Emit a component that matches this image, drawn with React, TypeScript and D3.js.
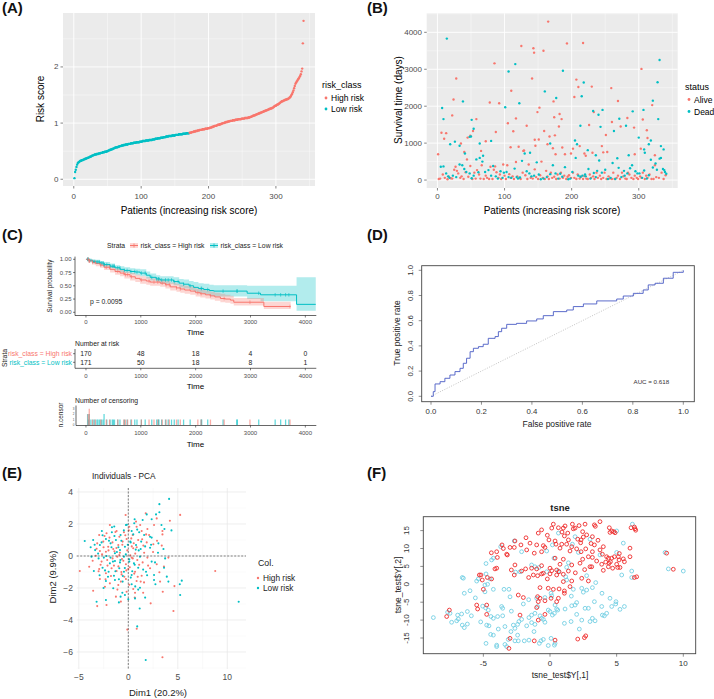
import React from 'react';
import * as d3 from 'd3';

const FONT = 'Liberation Sans, Arial, Helvetica, sans-serif';
const RED = '#F8766D';
const TEAL = '#00BFC4';
const G30 = '#4D4D4D';

// ---------- (A) risk scores, sorted ----------
const riskLow = [
0.02,0.13,0.17,0.22,0.26,0.29,0.30,0.31,0.32,0.33,
0.33,0.34,0.34,0.35,0.35,0.36,0.36,0.37,0.37,0.38,
0.38,0.39,0.39,0.40,0.40,0.41,0.42,0.42,0.43,0.43,
0.44,0.44,0.44,0.45,0.45,0.45,0.46,0.46,0.46,0.47,
0.47,0.47,0.48,0.48,0.48,0.49,0.49,0.49,0.50,0.50,
0.51,0.51,0.52,0.52,0.53,0.53,0.54,0.54,0.55,0.55,
0.56,0.56,0.57,0.57,0.57,0.58,0.58,0.59,0.59,0.59,
0.60,0.60,0.60,0.61,0.61,0.61,0.62,0.62,0.62,0.62,
0.63,0.63,0.63,0.63,0.64,0.64,0.64,0.64,0.65,0.65,
0.65,0.65,0.66,0.66,0.66,0.66,0.66,0.67,0.67,0.67,
0.67,0.68,0.68,0.68,0.68,0.68,0.69,0.69,0.69,0.69,
0.69,0.70,0.70,0.70,0.70,0.70,0.71,0.71,0.71,0.71,
0.72,0.72,0.72,0.72,0.73,0.73,0.73,0.73,0.74,0.74,
0.74,0.74,0.75,0.75,0.75,0.75,0.76,0.76,0.76,0.76,
0.77,0.77,0.77,0.77,0.77,0.78,0.78,0.78,0.78,0.78,
0.79,0.79,0.79,0.79,0.79,0.80,0.80,0.80,0.80,0.80,
0.80,0.81,0.81,0.81,0.81,0.81,0.82,0.82,0.82,0.82,0.82];
const riskHigh = [
0.83,0.83,0.83,0.84,0.84,0.84,0.85,0.85,0.85,
0.86,0.86,0.86,0.87,0.87,0.87,0.88,0.88,0.88,0.88,
0.89,0.89,0.89,0.89,0.90,0.90,0.90,0.90,0.91,0.91,
0.91,0.92,0.92,0.92,0.93,0.93,0.94,0.94,0.95,0.95,
0.95,0.96,0.96,0.97,0.97,0.97,0.98,0.98,0.99,0.99,
1.00,1.00,1.00,1.01,1.01,1.02,1.02,1.02,1.03,1.03,
1.03,1.04,1.04,1.04,1.04,1.05,1.05,1.05,1.05,1.06,
1.06,1.06,1.06,1.07,1.07,1.07,1.07,1.07,1.08,1.08,
1.08,1.08,1.08,1.09,1.09,1.09,1.09,1.09,1.10,1.10,
1.10,1.11,1.11,1.12,1.12,1.13,1.13,1.14,1.14,1.15,
1.15,1.16,1.16,1.17,1.17,1.18,1.18,1.19,1.19,1.20,
1.20,1.21,1.21,1.22,1.22,1.23,1.23,1.24,1.24,1.25,
1.25,1.26,1.26,1.27,1.27,1.28,1.29,1.30,1.31,1.31,
1.32,1.33,1.33,1.34,1.35,1.36,1.37,1.38,1.39,1.39,
1.40,1.40,1.41,1.41,1.42,1.42,1.43,1.43,1.44,1.45,
1.46,1.48,1.50,1.52,1.55,1.58,1.62,1.66,1.70,1.72,
1.74,1.76,1.78,1.80,1.82,1.84,1.87,1.92,1.97,2.42,2.82];

// ---------- (B) survival time by patient index ----------
const survAlive: [number, number][] = [
[1,700],[6,1280],[10,1120],[13,1270],[22,1750],[24,2180],[28,2750],[35,990],[40,760],[45,1150],[49,1200],[53,1330],[58,1650],
[65,790],[72,1050],[78,2100],[85,3160],[87,1300],[92,2080],[105,1540],[109,890],[110,2420],[113,1320],[117,1670],[121,900],
[125,3630],[128,790],[133,1470],[141,2750],[143,3570],[144,3450],[145,1090],[146,930],[149,1840],[152,1960],[151,1100],[158,3500],
[159,1330],[164,970],[165,4290],[167,1180],[172,860],[173,2130],[174,1700],[175,1210],[176,700],[181,1450],[182,1790],[185,1650],
[186,880],[190,700],[193,3700],[199,720],[202,850],[204,2250],[207,2720],[210,2520],[212,920],[217,3710],[219,720],[221,660],
[226,1490],[230,2530],[231,740],[233,1840],[245,920],[247,750],[251,1220],[253,760],[259,2490],[260,1570],[269,2140],[273,1450],
[283,1680],[293,1420],[294,700],[303,850],[304,3010],[306,1640],[312,1350],[313,1140],[320,2030],[324,670],
[2,30],[4,40],[8,150],[11,60],[15,20],[17,90],[20,50],[22,40],[25,280],[27,360],[29,250],[31,180],[34,60],[36,100],[39,30],
[42,210],[44,560],[46,90],[49,380],[52,30],[55,200],[57,40],[59,270],[62,150],[64,40],[66,400],[69,30],[72,120],[74,60],[77,30],[79,360],
[82,30],[84,280],[86,370],[88,210],[91,60],[93,150],[95,30],[98,420],[100,120],[102,30],[104,400],[107,160],[109,60],[112,100],[114,30],[117,490],[119,100],
[122,60],[124,30],[127,200],[129,800],[131,130],[134,30],[136,420],[139,60],[142,40],[145,290],[147,80],[150,30],[153,130],[155,500],[157,60],[160,30],
[162,250],[164,100],[166,30],[169,200],[171,60],[174,90],[177,30],[179,150],[182,40],[184,200],[187,60],[189,120],[192,30],[194,90],[196,130],[199,60],
[202,200],[204,60],[207,30],[209,150],[212,40],[214,90],[217,30],[219,110],[222,40],[224,30],[227,150],[229,60],[232,100],[234,30],[237,200],[239,60],
[242,120],[244,30],[247,60],[249,200],[252,30],[255,100],[257,40],[260,30],[262,200],[264,30],[267,60],[269,120],[272,30],[275,200],[277,100],[280,40],
[282,30],[284,200],[286,150],[289,60],[292,30],[294,120],[297,60],[299,30],[302,100],[304,60],[306,200],[309,30],[311,120],[313,60],[316,150],[319,30],
[322,30],[324,400],[326,80],[330,60],[334,200],[337,30],[340,130]];
const survDead: [number, number][] = [
[7,1950],[9,1650],[14,3830],[19,970],[26,1040],[33,930],[38,2130],[41,720],[48,1170],[50,1180],[51,1630],[54,1390],[63,990],[68,660],
[80,1060],[101,1970],[106,2940],[116,3140],[122,2080],[138,740],[160,2400],[168,990],[177,2220],[187,2960],[205,1070],[208,970],[213,1470],
[215,2270],[218,2640],[224,810],[232,1870],[236,670],[240,1770],[243,1440],[246,1900],[263,1330],[268,590],[271,1660],[281,1470],[285,670],
[291,1860],[300,1150],[307,1900],[308,830],[309,740],[315,970],[318,1070],[321,2150],[328,2650],[329,1650],[331,3250],[333,920],[337,830],[338,270],
[5,360],[9,370],[13,180],[16,100],[18,60],[23,120],[28,80],[33,420],[37,400],[40,300],[43,220],[48,180],[51,50],[54,120],[58,560],
[61,210],[63,600],[67,500],[71,220],[76,270],[80,120],[83,380],[87,100],[90,40],[94,240],[97,60],[99,200],[103,220],[106,80],[110,60],[115,310],[118,80],[120,40],
[123,70],[126,520],[130,720],[133,240],[137,180],[140,100],[144,120],[148,480],[151,150],[154,20],[158,40],[163,80],[168,160],[172,400],[176,180],[180,40],
[183,170],[186,90],[190,350],[195,20],[198,40],[201,220],[206,600],[210,120],[213,90],[216,120],[220,150],[221,100],[225,300],[228,40],[233,190],[236,80],[238,250],
[241,530],[245,200],[250,280],[254,30],[258,60],[261,460],[265,30],[270,330],[274,80],[278,250],[279,120],[283,180],[287,320],[290,400],[295,240],[298,180],
[301,180],[305,60],[308,260],[312,40],[315,130],[318,550],[321,340],[325,450],[327,280],[331,580],[333,600],[336,300],[339,220],[341,170]];

// ---------- (C) Kaplan-Meier ----------
const highT = [0,60,120,180,256,330,439,530,622,700,805,900,988,1100,1171,1354,1450,1537,1650,1720,1800,1902,2000,2085,2180,2268,2350,2451,2540,2634,2695,3244];
const highS = [1,0.97,0.94,0.92,0.89,0.85,0.81,0.77,0.74,0.71,0.67,0.64,0.61,0.59,0.57,0.55,0.52,0.48,0.46,0.44,0.42,0.40,0.37,0.35,0.33,0.31,0.29,0.26,0.25,0.23,0.19,0.11];
const highLo = [1,0.94,0.90,0.87,0.84,0.80,0.75,0.71,0.68,0.64,0.60,0.57,0.54,0.52,0.50,0.48,0.45,0.41,0.39,0.37,0.35,0.33,0.30,0.28,0.26,0.24,0.22,0.19,0.18,0.16,0.13,0.06];
const highHi = [1,1.0,0.98,0.96,0.94,0.90,0.87,0.83,0.80,0.77,0.74,0.71,0.68,0.66,0.64,0.62,0.59,0.56,0.54,0.52,0.50,0.48,0.45,0.43,0.41,0.39,0.37,0.35,0.33,0.31,0.27,0.20];
const highEnd = 3732;
const lowT = [0,60,120,180,256,330,439,530,622,700,805,900,988,1100,1171,1280,1354,1598,1700,1780,1880,1963,2050,2146,2250,2329,2939,3183,3840];
const lowS = [1,0.98,0.96,0.95,0.93,0.90,0.87,0.84,0.81,0.79,0.77,0.76,0.74,0.70,0.66,0.63,0.61,0.58,0.55,0.53,0.50,0.47,0.45,0.43,0.41,0.40,0.36,0.33,0.15];
const lowLo = [1,0.96,0.93,0.92,0.89,0.86,0.83,0.79,0.76,0.74,0.72,0.70,0.68,0.64,0.60,0.57,0.54,0.51,0.47,0.45,0.42,0.39,0.36,0.34,0.31,0.30,0.25,0.21,0.03];
const lowHi = [1,1.0,0.99,0.99,0.97,0.95,0.92,0.89,0.87,0.85,0.83,0.82,0.81,0.77,0.73,0.70,0.68,0.66,0.63,0.62,0.59,0.57,0.55,0.54,0.52,0.51,0.50,0.50,0.66];
const lowEnd = 4190;
const lowCensor = [30,30,45,60,60,90,130,160,200,220,250,280,310,330,330,380,440,480,500,520,580,620,700,750,820,890,930,1010,1080,1200,1290,1320,1330,1380,1450,1500,1560,1610,1680,1780,1900,2100,2110,2220,2500,2750,2760,3150,3450,3550,3640,3700];
const highCensor = [40,40,60,60,60,120,170,270,370,430,580,690,720,760,830,1010,1150,1240,1310,1390,1460,1520,1650,1720,2040,2100,2270,2520,2990,3720];
const riskTimes = [0,1000,2000,3000,4000];
const riskHighN = [170,48,18,4,0];
const riskLowN = [171,50,18,8,1];
const kmTicks = [0,1000,2000,3000,4000];
const survTicks = [0,0.25,0.5,0.75,1];

// ---------- (D) ROC ----------
const rocFpr = [0,0.009,0.016,0.036,0.055,0.075,0.095,0.115,0.128,0.141,0.155,0.168,0.188,0.207,0.227,0.254,0.267,0.280,0.300,0.339,0.379,0.419,0.445,0.485,0.538,0.564,0.604,0.657,0.736,0.762,0.802,0.841,0.861,0.888,0.921,0.960,1.0];
const rocTpr = [0,0.037,0.098,0.116,0.143,0.169,0.196,0.222,0.262,0.302,0.354,0.381,0.394,0.413,0.460,0.474,0.513,0.540,0.571,0.579,0.598,0.614,0.640,0.672,0.685,0.712,0.733,0.757,0.772,0.796,0.817,0.844,0.884,0.897,0.937,0.984,1.0];
const rocTicks = [0,0.2,0.4,0.6,0.8,1.0];

// ---------- (E) PCA ----------
const pcaHigh: [number, number][] = [
[8.78,-0.94],[3.45,-6.33],[-0.1,-4.6],[0.85,-4.55],[5.24,2.57],[4.2,2.2],[4.66,-1.88],[4.56,-3.44],[2.26,-2.96],[0.65,-2.6],[0.68,-2.3],[-3.14,-3.13],[-3.55,-2.17],[-4.9,-0.94],[-0.75,-2.85],
[-0.27,2.56],[1.76,2.67],[2.87,2.35],[-1.86,1.94],[0.78,2.15],[1.2,1.94],[2.6,1.94],[3.45,1.56],[3.45,1.35],
[-2.94,1.31],[-2.2,1.42],[-1.18,1.56],[-0.44,1.48],[0.1,1.83],[0.44,1.31],[0.84,1.83],[1.35,1.56],[1.93,1.69],[2.1,1.31],
[-3.14,0.79],[-2.53,0.9],[-2.03,0.58],[-1.52,0.44],[-1.01,0.69],[-0.57,0.9],[-0.17,1.06],[0.5,0.48],[1.0,1.0],[1.52,0.65],[1.86,0.85],[2.53,0.73],[3.38,0.65],[-2.87,0.31],[-2.26,0.27],[-0.91,0.06],
[-3.28,0.02],[-2.7,-0.35],[-2.13,-0.25],[-1.59,-0.15],[-1.11,-0.04],[-0.64,-0.19],[-0.24,-0.52],[0.34,-0.1],[0.91,-0.25],[1.45,-0.4],[1.93,-0.1],[2.87,-0.52],[4.05,-0.1],
[-3.95,-0.67],[-2.94,-0.81],[-2.26,-1.08],[-1.69,-0.77],[-1.18,-0.94],[-0.68,-1.15],[0,-0.81],[0.68,-0.98],[1.35,-1.23],[2.2,-0.77],[3.14,-1.02],[3.6,-0.66],
[-2.87,-1.44],[-1.86,-1.71],[-1.01,-1.81],[-0.24,-1.44],[0.84,-1.56],[1.59,-1.65],[3.21,-1.6],[-2.36,-1.92],[0.5,-2.06],
[-2.2,-3.06],[-0.17,-2.23],[-1.25,-2.54],[3.48,-2.23],
[-2.5,0.55],[-1.9,1.15],[-1.4,0.3],[-0.9,1.2],[-0.5,-0.3],[-0.1,0.35],[0.3,1.1],[0.7,0.15],[1.1,-0.55],[1.6,0.2],[-2.8,-0.55],[-2.1,-0.6],[-1.6,0.85],[-1.0,-0.65],[-0.6,0.7],[0.15,-0.7],[0.55,0.8],[0.95,-1.3],[-3.2,0.45],[-2.4,1.25],
[-1.75,-1.25],[-1.2,0.5],[-0.7,-1.0],[-0.3,1.3],[0.2,0.05],[0.6,-1.1],[1.4,1.05],[2.0,-0.6],[2.5,0.25],[-3.6,-0.3],[-2.65,0.1],[-2.0,0.35],[-1.45,-0.6],[-0.85,0.2],[-0.4,-1.3],[0.05,1.6],[0.45,-0.15],[0.85,0.55],[1.25,-1.6],[1.8,1.35],
[-1.3,1.5],[-0.2,-0.9],[0.35,0.6],[-2.3,-1.45],[-3.0,-0.95],[2.9,0.95],[1.5,-2.3],[-1.1,-2.1],[0.1,-1.8],[-0.75,-1.6]];
const pcaLow: [number, number][] = [
[11.15,-2.86],[1.76,-6.5],[0.9,-4.4],[4.12,3.57],[3.14,3.24],[4.36,1.6],[5.4,-1.54],[5.2,-1.77],[5.24,-2.44],[1.15,-3.28],[1.7,-2.6],[-3.2,-2.86],[-4.4,0.94],[-0.95,-2.9],
[1.86,2.6],[2.8,2.6],[3.14,2.73],[-1.42,1.84],[0.64,2.3],[1.45,2.25],[2.36,2.3],[3.35,1.94],[3.65,1.69],
[-2.67,1.56],[-1.66,1.48],[-0.78,1.31],[-0.24,1.94],[0.34,1.56],[1.1,1.48],[1.6,1.31],[2.36,1.15],
[-3.55,1.0],[-2.87,0.69],[-2.26,1.06],[-1.79,0.79],[-1.25,1.0],[-0.84,0.37],[-0.34,0.58],[0.24,0.85],[0.78,0.69],[1.25,0.44],[2.2,0.52],[3.04,0.79],[3.55,0.44],[-3.35,0.37],[-1.35,0.17],
[-3.72,-0.04],[-3.0,-0.15],[-2.47,-0.1],[-1.86,-0.46],[-1.35,-0.31],[-0.84,-0.4],[-0.44,-0.04],[0.1,-0.35],[0.57,-0.46],[1.18,-0.04],[2.36,-0.35],[3.72,-0.15],
[-3.48,-0.94],[-2.6,-0.73],[-1.99,-0.98],[-1.45,-1.23],[-0.91,-0.77],[-0.44,-0.98],[0.34,-1.19],[1.0,-0.73],[1.79,-0.98],[2.6,-1.19],[3.61,-0.73],
[-2.26,-1.56],[-1.35,-1.5],[-0.57,-1.6],[0.34,-1.77],[1.18,-1.98],[2.6,-1.5],[2.74,-1.77],[3.89,-1.29],[4.05,-1.6],[-1.52,-2.02],
[-2.26,-2.75],[-0.78,-2.54],[-0.34,-2.44],[0.68,-2.65],
[-2.7,0.85],[-2.2,0.0],[-1.7,0.55],[-1.15,0.25],[-0.7,0.95],[-0.25,0.1],[0.2,0.9],[0.65,-0.55],[1.05,0.35],[1.5,-0.85],[-3.05,0.15],[-2.35,-0.9],[-1.8,-0.1],[-1.3,-0.95],[-0.8,-0.25],[-0.35,-0.75],[0.1,-0.2],[0.5,1.35],[0.9,1.65],[1.7,0.6],
[-3.4,0.7],[-2.6,1.3],[-1.95,0.95],[-1.55,-0.35],[-1.0,0.55],[-0.55,-1.25],[-0.05,0.7],[0.4,-0.95],[0.75,0.4],[1.3,0.9],[2.2,1.2],[2.7,-0.4],[-2.9,-1.2],[-2.05,-1.3],[-1.4,1.25],[-0.95,-1.45],[-0.45,1.6],[0.25,-1.35],[0.7,-1.9],[1.9,-1.2],
[-1.65,1.8],[-0.15,1.95],[0.6,2.05],[-3.8,0.55],[-0.6,-2.3],[0.0,-2.7],[1.0,-2.1],[-2.5,-2.0],[2.3,0.7],[3.0,0.2]];

// ---------- (F) t-SNE ----------
const tsneHigh: [number, number][] = [
[3.75,17.5],[3.33,16.6],[2.63,16.8],[2.18,16.4],[1.68,16.8],[1.13,16.3],[1.0,15.7],[0.63,15.8],[0.25,16.8],[0.13,15.7],[-0.63,15.2],[-0.88,14.3],[1.75,15.5],[1.88,15.7],[2.45,14.7],[2.75,13.8],[2.5,13.2],[3.18,13.3],[3.4,16.2],
[4.45,15.8],[4.63,14.9],[4.78,14.7],[4.5,14.5],[4.88,14.4],[6.08,15.8],[6.38,15.5],[6.33,16.0],[6.43,15.1],
[1.33,14.3],[1.08,13.5],[1.38,12.4],[2.08,12.6],[2.33,12.4],[-1.8,13.0],[-2.63,12.1],[-2.18,11.0],[-2.68,10.3],[-3.0,10.3],[-3.25,8.4],
[-4.0,9.1],[-3.95,7.5],[-4.0,4.5],[-5.18,2.6],[-5.08,1.2],[-4.7,1.9],[-4.38,1.5],
[-1.75,9.6],[-1.18,8.7],[-0.63,9.1],[-0.5,10.8],[-0.38,10.3],[-1.0,11.0],[-0.08,12.4],[0.38,12.1],[0.45,11.2],[0.88,11.2],[0.75,10.1],[1.25,11.2],[1.63,10.5],[1.5,9.3],[2.0,9.9],[2.33,9.1],[2.68,9.9],[3.08,11.4],[3.33,11.0],[3.18,9.1],
[4.0,10.5],[3.75,9.6],[3.93,8.4],[4.25,7.7],[4.38,7.3],[4.63,7.3],[4.83,7.7],[5.13,7.7],[5.18,6.8],[5.5,7.1],[6.0,7.7],[4.53,6.3],[4.18,6.2],[3.88,5.6],[4.0,3.9],[4.38,4.9],[5.08,4.7],[5.25,4.7],[5.58,6.3],[6.5,2.1],[4.43,5.9],
[2.88,7.7],[3.18,7.5],[3.0,4.9],[3.13,4.9],[2.45,7.0],[2.25,5.9],[1.63,5.4],[1.0,7.0],[0.38,7.3],[0.75,5.6],[0,4.5],[0.5,4.0],[0.68,3.5],[1.38,3.7],[1.0,2.8],[0.5,2.6],[0.13,3.8],[-0.63,5.2],[-1.0,4.3],[-1.38,4.5],[-1.83,4.3],[-2.13,3.7],[-1.25,2.6],[-0.93,2.4],[-0.63,2.9],[0,2.9],[-0.5,3.1],[-2.68,2.6],[-2.63,5.4],[-4.13,4.3],[-3.2,8.2],
[1.0,0.75],[1.63,0.93],[2.38,1.68],[2.88,0.93],[1.5,-0.65],[0.68,-1.3],[0.25,-1.4],[-0.13,-1.1],[-0.75,-0.93],[1.08,-2.5],[1.08,-1.86],[0.63,-3.9],[0.5,-4.85],[0.08,-3.9],[-0.38,-4.6],[-0.75,-3.9],[-0.93,-3.45],[-0.88,-4.85],[-1.0,-6.5],[-2.38,-3.0],[-2.0,-3.7],[-2.25,-8.6],[-0.88,-10.0],[-0.38,-8.4],
[0.38,-15.6],[-3.0,-15.1],[-3.08,-17.9],[-1.18,-15.8],[2.08,-15.3],[2.58,-14.9],[2.68,-14.4],
[-7.55,-7.2],[-7.75,-9.0],[-5.5,-5.8],[-5.43,-6.9],[-4.75,-5.8],[-4.75,-8.4],[-5.0,-1.4],[8.75,8.7],[9.25,4.2],[6.33,1.9],[6.0,10.1],
[-5.3,2.6],[-3.6,11.0],[-1.5,11.5],[-0.2,13.7],[0.9,14.6],[2.3,11.6],[3.6,12.3],[5.2,8.6],[5.0,5.6],[4.7,4.5],[3.5,6.5],[2.6,4.1],[1.9,3.2],[-0.2,1.5],[-1.6,1.9],[-2.9,4.0],[-4.4,8.8],[-3.5,10.0]];
const tsneLow: [number, number][] = [
[-8.75,-9.3],[-7.68,-7.8],[-7.5,-8.1],[-7.38,-10.6],[-6.93,-8.6],[-6.88,-9.7],[-6.63,-8.3],[-6.58,-11.4],[-6.43,-12.1],[-6.2,-11.1],[-6.2,-7.6],[-6.58,1.9],[-6.5,1.7],[-6.43,-2.5],[-6.0,-1.8],[-5.5,0.9],[-5.38,1.5],
[-4.8,5.8],[-4.8,2.9],[-4.88,-0.2],[-4.88,-2.1],[-4.68,0],[-4.5,1.5],[-4.38,6.8],[-4.25,7.3],[-3.7,10.5],[-4.25,-1.4],[-3.45,-1.4],[-3.08,-1.4],
[-5.05,-6.1],[-4.83,-6.6],[-4.63,-7.2],[-4.43,-9.0],[-4.25,-9.5],[-3.93,-9.0],[-3.63,-6.2],[-3.55,-6.7],[-3.55,-8.8],[-3.38,-11.8],[-4.58,-11.6],[-3.88,-12.5],[-4.25,-14.2],[-4.45,-14.0],[-4.75,-11.4],
[-4.8,-16.5],[-4.0,-17.0],[-4.0,-17.4],[-3.38,-16.8],[-3.25,-17.4],[-3.13,-15.4],[-2.93,-13.2],[-2.75,-11.4],[-2.63,-12.3],[-2.43,-11.2],[-2.33,-10.4],[-2.13,-9.8],[-1.75,-11.6],[-1.58,-9.3],[-1.38,-10.7],[-1.38,-8.6],[-1.13,-8.1],
[-1.0,-3.9],[-0.93,-6.2],[-0.75,-8.8],[-0.63,-9.5],[-0.5,-9.8],[-0.38,-10.6],[-1.13,-11.2],[-0.8,-16.5],[-0.68,-15.8],[-0.5,-15.4],[-0.13,-17.1],[0.08,-15.1],[0.33,-17.0],[0.38,-16.5],[-2.38,-15.8],[-2.63,-15.8],[-1.93,-15.8],[-1.58,-15.6],[-2.43,-14.2],
[-0.13,-7.2],[0,-7.6],[0.18,-8.6],[0.33,-8.1],[0.5,-6.9],[0.38,-5.8],[0.58,-7.2],[0.08,-2.5],[0.13,-3.2],[-0.38,-3.7],[1.13,-6.9],[1.63,-6.0],[1.88,-5.8],[2.0,-5.1],[2.0,-8.4],[1.08,-10.9],[1.58,-10.4],[2.38,-10.0],[2.63,-6.7],[2.88,-6.7],
[3.0,-10.4],[3.18,-9.5],[3.38,-10.2],[3.33,-4.85],[3.88,-6.2],[3.93,-8.6],[4.08,-8.8],[4.25,-8.1],[4.5,-3.9],[4.63,-6.2],[4.95,-4.85],[4.93,-5.5],[5.25,-7.0],[5.58,-6.2],
[2.5,-2.2],[2.75,-1.6],[3.18,-0.93],[3.43,0.47],[2.75,2.4],[2.38,-1.1],[1.75,-1.4],[1.25,1.2],[1.18,2.1],[1.25,4.75],[0.63,3.7],[1.38,6.0],[1.68,11.2],[1.88,13.3],[0.18,11.0],[0.63,14.3],[0.3,7.3],[-0.25,9.3],
[-1.13,4.9],[-0.83,4.7],[-1.38,5.4],[-2.25,3.5],[-2.58,3.4],[-2.13,9.1],[-2.68,12.1],[2.13,8.9],[3.0,12.6],[5.0,8.9],[5.0,14.9],[6.18,16.8],[5.5,11.5],[6.13,3.7],[6.13,1.9],[5.38,2.6],[3.75,8.2],[8.63,8.9],[8.88,4.3],[10.0,3.7],[-0.25,3.5],
[-2.0,-5.5],[-1.6,-4.3],[-3.0,-3.5],[-5.6,-3.8],[-5.9,-8.8],[-7.0,-10.2],[-5.2,-10.5],[-2.9,-7.5],[1.6,-3.3],[3.9,-2.5],[2.2,-12.5],[-1.2,-13.2]];

// ---------------------------------------------------------------
const T = (p: any) => <text fontFamily={FONT} {...p} />;

function ggGrid(x: any, y: any, xMaj: number[], xMin: number[], yMaj: number[], yMin: number[], L: number, R: number, Tp: number, B: number) {
  return (
    <g>
      <rect x={L} y={Tp} width={R - L} height={B - Tp} fill="#EBEBEB" />
      {xMin.map(t => <line key={'xm' + t} x1={x(t)} x2={x(t)} y1={Tp} y2={B} stroke="#fff" strokeWidth={0.4} />)}
      {yMin.map(t => <line key={'ym' + t} y1={y(t)} y2={y(t)} x1={L} x2={R} stroke="#fff" strokeWidth={0.4} />)}
      {xMaj.map(t => <line key={'xM' + t} x1={x(t)} x2={x(t)} y1={Tp} y2={B} stroke="#fff" strokeWidth={0.9} />)}
      {yMaj.map(t => <line key={'yM' + t} y1={y(t)} y2={y(t)} x1={L} x2={R} stroke="#fff" strokeWidth={0.9} />)}
      {xMaj.map(t => <line key={'xt' + t} x1={x(t)} x2={x(t)} y1={B} y2={B + 2.5} stroke="#333" strokeWidth={0.6} />)}
      {yMaj.map(t => <line key={'yt' + t} y1={y(t)} y2={y(t)} x1={L - 2.5} x2={L} stroke="#333" strokeWidth={0.6} />)}
    </g>
  );
}

function PanelA() {
  const L = 63, R = 315, Tp = 13, B = 186;
  const x = d3.scaleLinear().domain([-16, 358]).range([L, R]);
  const y = d3.scaleLinear().domain([-0.12, 2.96]).range([B, Tp]);
  const xMaj = [0, 100, 200, 300], yMaj = [0, 1, 2];
  return (
    <g>
      {ggGrid(x, y, xMaj, [50, 150, 250, 350], yMaj, [0.5, 1.5, 2.5], L, R, Tp, B)}
      {riskLow.map((v, i) => <circle key={'l' + i} cx={x(i + 1)} cy={y(v)} r={1.2} fill={TEAL} />)}
      {riskHigh.map((v, i) => <circle key={'h' + i} cx={x(i + 1 + riskLow.length)} cy={y(v)} r={1.2} fill={RED} />)}
      {xMaj.map(t => <T key={'xl' + t} x={x(t)} y={196} fontSize={8} fill={G30} textAnchor="middle" dominantBaseline="central">{t}</T>)}
      {yMaj.map(t => <T key={'yl' + t} x={58.5} y={y(t)} fontSize={8} fill={G30} textAnchor="end" dominantBaseline="central">{t}</T>)}
      <T x={189} y={210.5} fontSize={10} textAnchor="middle" dominantBaseline="central">Patients (increasing risk score)</T>
      <T transform="translate(40,99) rotate(-90)" fontSize={10} textAnchor="middle" dominantBaseline="central">Risk score</T>
      <T x={322} y={85} fontSize={9} dominantBaseline="central">risk_class</T>
      <circle cx={326} cy={98} r={1.4} fill={RED} />
      <T x={331} y={98} fontSize={8.5} dominantBaseline="central">High risk</T>
      <circle cx={326} cy={109} r={1.4} fill={TEAL} />
      <T x={331} y={109} fontSize={8.5} dominantBaseline="central">Low risk</T>
    </g>
  );
}

function PanelB() {
  const L = 426.7, R = 677.7, Tp = 13.3, B = 188;
  const x = d3.scaleLinear().domain([-16, 358]).range([L, R]);
  const y = d3.scaleLinear().domain([-215, 4515]).range([B, Tp]);
  const xMaj = [0, 100, 200, 300], yMaj = [0, 1000, 2000, 3000, 4000];
  return (
    <g>
      {ggGrid(x, y, xMaj, [50, 150, 250, 350], yMaj, [500, 1500, 2500, 3500, 4500], L, R, Tp, B)}
      {survAlive.map((d, i) => <circle key={'a' + i} cx={x(d[0])} cy={y(d[1])} r={1.2} fill={RED} />)}
      {survDead.map((d, i) => <circle key={'d' + i} cx={x(d[0])} cy={y(d[1])} r={1.2} fill={TEAL} />)}
      {xMaj.map(t => <T key={'xl' + t} x={x(t)} y={196} fontSize={8} fill={G30} textAnchor="middle" dominantBaseline="central">{t}</T>)}
      {yMaj.map(t => <T key={'yl' + t} x={422} y={y(t)} fontSize={8} fill={G30} textAnchor="end" dominantBaseline="central">{t}</T>)}
      <T x={552} y={210.5} fontSize={10} textAnchor="middle" dominantBaseline="central">Patients (increasing risk score)</T>
      <T transform="translate(398,100) rotate(-90)" fontSize={10} textAnchor="middle" dominantBaseline="central">Survival time (days)</T>
      <T x={685} y={87} fontSize={9} dominantBaseline="central">status</T>
      <circle cx={689} cy={99.5} r={1.4} fill={RED} />
      <T x={694} y={99.5} fontSize={8.5} dominantBaseline="central">Alive</T>
      <circle cx={689} cy={111.5} r={1.4} fill={TEAL} />
      <T x={694} y={111.5} fontSize={8.5} dominantBaseline="central">Dead</T>
    </g>
  );
}

type KM = { t: number; s: number; lo: number; hi: number };
function buildKM(t: number[], s: number[], lo: number[], hi: number[], end: number): KM[] {
  const a = t.map((v, i) => ({ t: v, s: s[i], lo: lo[i], hi: hi[i] }));
  a.push({ ...a[a.length - 1], t: end });
  return a;
}
function survAt(km: KM[], t: number) {
  let r = km[0];
  for (const d of km) if (d.t <= t) r = d;
  return r.s;
}

function PanelC() {
  const x = d3.scaleLinear().domain([-200, 4200]).range([75, 316.3]);
  const y = d3.scaleLinear().domain([0, 1]).range([312.3, 259.3]);
  const kmH = buildKM(highT, highS, highLo, highHi, highEnd);
  const kmL = buildKM(lowT, lowS, lowLo, lowHi, lowEnd);
  const line = d3.line<KM>().x(d => x(d.t)).y(d => y(d.s)).curve(d3.curveStepAfter);
  const area = d3.area<KM>().x(d => x(d.t)).y0(d => y(d.lo)).y1(d => y(d.hi)).curve(d3.curveStepAfter);
  const axisY = 315.5;
  // risk table
  const rY = [353.7, 362.3];
  // censor plot
  const cy = d3.scaleLinear().domain([0, 3.3]).range([425, 407]);
  const cntH = d3.rollups(highCensor, v => v.length, d => d);
  const cntL = d3.rollups(lowCensor, v => v.length, d => d);
  return (
    <g>
      {/* legend */}
      <T x={107} y={245.5} fontSize={6.8} fill="#222" dominantBaseline="central">Strata</T>
      <rect x={130} y={243} width={8} height={5} fill={RED} fillOpacity={0.3} />
      <line x1={130} x2={138} y1={245.5} y2={245.5} stroke={RED} strokeWidth={1} />
      <line x1={134} x2={134} y1={243.5} y2={247.5} stroke={RED} strokeWidth={0.8} />
      <T x={140.5} y={245.5} fontSize={6.8} fill="#222" dominantBaseline="central">risk_class = High risk</T>
      <rect x={210} y={243} width={8} height={5} fill={TEAL} fillOpacity={0.3} />
      <line x1={210} x2={218} y1={245.5} y2={245.5} stroke={TEAL} strokeWidth={1} />
      <line x1={214} x2={214} y1={243.5} y2={247.5} stroke={TEAL} strokeWidth={0.8} />
      <T x={220.5} y={245.5} fontSize={6.8} fill="#222" dominantBaseline="central">risk_class = Low risk</T>

      <path d={area(kmL) || ''} fill={TEAL} fillOpacity={0.3} />
      <path d={area(kmH) || ''} fill={RED} fillOpacity={0.3} />
      <path d={line(kmL) || ''} fill="none" stroke={TEAL} strokeWidth={1} />
      <path d={line(kmH) || ''} fill="none" stroke={RED} strokeWidth={1} />
      {lowCensor.map((t, i) => <line key={'cl' + i} x1={x(t)} x2={x(t)} y1={y(survAt(kmL, t)) - 1.8} y2={y(survAt(kmL, t)) + 1.8} stroke={TEAL} strokeWidth={0.6} />)}
      {highCensor.map((t, i) => <line key={'ch' + i} x1={x(t)} x2={x(t)} y1={y(survAt(kmH, t)) - 1.8} y2={y(survAt(kmH, t)) + 1.8} stroke={RED} strokeWidth={0.6} />)}
      <line x1={75} x2={75} y1={256.6} y2={axisY} stroke="#000" strokeWidth={0.6} />
      <line x1={75} x2={316.3} y1={axisY} y2={axisY} stroke="#000" strokeWidth={0.6} />
      {survTicks.map(t => <line key={'st' + t} x1={73} x2={75} y1={y(t)} y2={y(t)} stroke="#000" strokeWidth={0.5} />)}
      {survTicks.map(t => <T key={'sl' + t} x={71.5} y={y(t)} fontSize={6} fill={G30} textAnchor="end" dominantBaseline="central">{t.toFixed(2)}</T>)}
      {kmTicks.map(t => <line key={'kt' + t} x1={x(t)} x2={x(t)} y1={axisY} y2={axisY + 2} stroke="#000" strokeWidth={0.5} />)}
      {kmTicks.map(t => <T key={'kl' + t} x={x(t)} y={322} fontSize={6} fill={G30} textAnchor="middle" dominantBaseline="central">{t}</T>)}
      <T x={195.5} y={332.5} fontSize={8} textAnchor="middle" dominantBaseline="central">Time</T>
      <T transform="translate(49,286) rotate(-90)" fontSize={6.3} fill="#222" textAnchor="middle" dominantBaseline="central">Survival probability</T>
      <T x={90} y={301.5} fontSize={6.8} fill="#222" dominantBaseline="central">p = 0.0095</T>

      {/* risk table */}
      <T x={75} y={343.5} fontSize={6.8} fill="#222" dominantBaseline="central">Number at risk</T>
      {riskTimes.map((t, i) => <T key={'rh' + t} x={x(t)} y={rY[0]} fontSize={6.8} fill="#222" textAnchor="middle" dominantBaseline="central">{riskHighN[i]}</T>)}
      {riskTimes.map((t, i) => <T key={'rl' + t} x={x(t)} y={rY[1]} fontSize={6.8} fill="#222" textAnchor="middle" dominantBaseline="central">{riskLowN[i]}</T>)}
      <T x={72} y={rY[0]} fontSize={6.8} fill={RED} textAnchor="end" dominantBaseline="central">risk_class = High risk</T>
      <T x={72} y={rY[1]} fontSize={6.8} fill={TEAL} textAnchor="end" dominantBaseline="central">risk_class = Low risk</T>
      <line x1={73} x2={75} y1={rY[0]} y2={rY[0]} stroke="#000" strokeWidth={0.5} />
      <line x1={73} x2={75} y1={rY[1]} y2={rY[1]} stroke="#000" strokeWidth={0.5} />
      <T transform="translate(4,358) rotate(-90)" fontSize={6.8} fill="#222" textAnchor="middle" dominantBaseline="central">Strata</T>
      <line x1={75} x2={75} y1={349} y2={368.3} stroke="#000" strokeWidth={0.6} />
      <line x1={75} x2={316.3} y1={368.3} y2={368.3} stroke="#000" strokeWidth={0.6} />
      {kmTicks.map(t => <line key={'rt' + t} x1={x(t)} x2={x(t)} y1={368.3} y2={370.3} stroke="#000" strokeWidth={0.5} />)}
      {kmTicks.map(t => <T key={'rtl' + t} x={x(t)} y={375.7} fontSize={6} fill={G30} textAnchor="middle" dominantBaseline="central">{t}</T>)}
      <T x={195.5} y={386.5} fontSize={8} textAnchor="middle" dominantBaseline="central">Time</T>

      {/* censoring */}
      <T x={75} y={400} fontSize={6.8} fill="#222" dominantBaseline="central">Number of censoring</T>
      {cntL.map(([t, n]) => <line key={'bl' + t} x1={x(t)} x2={x(t)} y1={cy(0)} y2={cy(n)} stroke={TEAL} strokeOpacity={0.6} strokeWidth={1.3} />)}
      {cntH.map(([t, n]) => <line key={'bh' + t} x1={x(t)} x2={x(t)} y1={cy(0)} y2={cy(n)} stroke={RED} strokeOpacity={0.6} strokeWidth={1.3} />)}
      <line x1={76} x2={76} y1={405.5} y2={425.5} stroke="#000" strokeWidth={0.6} />
      <line x1={76} x2={316.3} y1={425.5} y2={425.5} stroke="#000" strokeWidth={0.6} />
      {[0, 1, 2, 3].map(t => <T key={'cyl' + t} x={74.5} y={cy(t)} fontSize={3} fill={G30} textAnchor="end" dominantBaseline="central">{t}</T>)}
      <T transform="translate(60,415) rotate(-90)" fontSize={6.5} fill="#222" textAnchor="middle" dominantBaseline="central">n.censor</T>
      {kmTicks.map(t => <line key={'ct' + t} x1={x(t)} x2={x(t)} y1={425.5} y2={427.5} stroke="#000" strokeWidth={0.5} />)}
      {kmTicks.map(t => <T key={'ctl' + t} x={x(t)} y={433.3} fontSize={6} fill={G30} textAnchor="middle" dominantBaseline="central">{t}</T>)}
      <T x={195.5} y={444} fontSize={8} textAnchor="middle" dominantBaseline="central">Time</T>
    </g>
  );
}

function PanelD() {
  const L = 421.7, R = 694.3, Tp = 265.7, B = 401.7;
  const x = d3.scaleLinear().domain([0, 1]).range([431, 683.3]);
  const y = d3.scaleLinear().domain([0, 1]).range([396.3, 270.3]);
  const pts = rocFpr.map((f, i) => [f, rocTpr[i]] as [number, number]);
  const line = d3.line<[number, number]>().x(d => x(d[0])).y(d => y(d[1])).curve(d3.curveStepAfter);
  return (
    <g>
      <line x1={x(0)} y1={y(0)} x2={x(1)} y2={y(1)} stroke="#9a9a9a" strokeWidth={0.6} strokeDasharray="1,1.5" />
      <path d={line(pts) || ''} fill="none" stroke="#4A5BC4" strokeWidth={0.9} />
      <rect x={L} y={Tp} width={R - L} height={B - Tp} fill="none" stroke="#444" strokeWidth={0.9} />
      {rocTicks.map(t => <line key={'xt' + t} x1={x(t)} x2={x(t)} y1={B} y2={B + 3} stroke="#444" strokeWidth={0.6} />)}
      {rocTicks.map(t => <line key={'yt' + t} y1={y(t)} y2={y(t)} x1={L - 3} x2={L} stroke="#444" strokeWidth={0.6} />)}
      {rocTicks.map(t => <T key={'xl' + t} x={x(t)} y={411} fontSize={7.8} fill="#333" textAnchor="middle" dominantBaseline="central">{t.toFixed(1)}</T>)}
      {rocTicks.map(t => <T key={'yl' + t} transform={`translate(410,${y(t)}) rotate(-90)`} fontSize={7.8} fill="#333" textAnchor="middle" dominantBaseline="central">{t.toFixed(1)}</T>)}
      <T x={557} y={423.5} fontSize={8.5} fill="#222" textAnchor="middle" dominantBaseline="central">False positive rate</T>
      <T transform="translate(396.7,333) rotate(-90)" fontSize={8.5} fill="#222" textAnchor="middle" dominantBaseline="central">True positive rate</T>
      <T x={633.5} y={381.7} fontSize={6.2} fill="#333" dominantBaseline="central">AUC = 0.618</T>
    </g>
  );
}

function PanelE() {
  const L = 76.7, R = 246, Tp = 488, B = 669;
  const x = d3.scaleLinear().domain([-5, 10]).range([78.8, 227.3]);
  const y = d3.scaleLinear().domain([-6, 4]).range([652, 492]);
  const xMaj = [-5, 0, 5, 10], yMaj = [-6, -4, -2, 0, 2, 4];
  const fmt = (v: number) => (v < 0 ? '\u2212' + Math.abs(v) : String(v));
  return (
    <g>
      {[-2.5, 2.5, 7.5].map(t => <line key={'xm' + t} x1={x(t)} x2={x(t)} y1={Tp} y2={B} stroke="#F2F2F2" strokeWidth={0.4} />)}
      {[-7, -5, -3, -1, 1, 3].map(t => <line key={'ym' + t} y1={y(t)} y2={y(t)} x1={L} x2={R} stroke="#F2F2F2" strokeWidth={0.4} />)}
      {xMaj.map(t => <line key={'xM' + t} x1={x(t)} x2={x(t)} y1={Tp} y2={B} stroke="#E6E6E6" strokeWidth={0.7} />)}
      {yMaj.map(t => <line key={'yM' + t} y1={y(t)} y2={y(t)} x1={L} x2={R} stroke="#E6E6E6" strokeWidth={0.7} />)}
      {pcaHigh.map((d, i) => <circle key={'h' + i} cx={x(d[0])} cy={y(d[1])} r={1.05} fill={RED} />)}
      {pcaLow.map((d, i) => <circle key={'l' + i} cx={x(d[0])} cy={y(d[1])} r={1.05} fill={TEAL} />)}
      <line x1={x(0)} x2={x(0)} y1={Tp} y2={B} stroke="#333" strokeWidth={0.6} strokeDasharray="2,1.5" />
      <line x1={L} x2={R} y1={y(0)} y2={y(0)} stroke="#333" strokeWidth={0.6} strokeDasharray="2,1.5" />
      {xMaj.map(t => <T key={'xl' + t} x={x(t)} y={677} fontSize={8.5} fill={G30} textAnchor="middle" dominantBaseline="central">{fmt(t)}</T>)}
      {yMaj.map(t => <T key={'yl' + t} x={73} y={y(t)} fontSize={8.5} fill={G30} textAnchor="end" dominantBaseline="central">{fmt(t)}</T>)}
      <T x={92} y={475.7} fontSize={8.3} fill="#222" dominantBaseline="central">Individuals - PCA</T>
      <T x={158} y={692} fontSize={9.5} fill="#222" textAnchor="middle" dominantBaseline="central">Dim1 (20.2%)</T>
      <T transform="translate(52,577) rotate(-90)" fontSize={9.5} fill="#222" textAnchor="middle" dominantBaseline="central">Dim2 (9.9%)</T>
      <T x={258} y={563} fontSize={8.8} fill="#222" dominantBaseline="central">Col.</T>
      <circle cx={258} cy={578} r={1.2} fill={RED} />
      <T x={263} y={578} fontSize={8.3} fill="#222" dominantBaseline="central">High risk</T>
      <circle cx={258} cy={588} r={1.2} fill={TEAL} />
      <T x={263} y={588} fontSize={8.3} fill="#222" dominantBaseline="central">Low risk</T>
    </g>
  );
}

function PanelF() {
  const L = 423.3, R = 695.7, Tp = 516.7, B = 653.7;
  const x = d3.scaleLinear().domain([0, 10]).range([550, 683.3]);
  const y = d3.scaleLinear().domain([0, 15]).range([584.3, 530.6]);
  const xT = [-5, 0, 5, 10], yT = [-15, -10, -5, 0, 5, 10, 15];
  return (
    <g>
      {tsneLow.map((d, i) => <circle key={'l' + i} cx={x(d[0])} cy={y(d[1])} r={1.9} fill="none" stroke="#74CFE3" strokeWidth={0.9} />)}
      {tsneHigh.map((d, i) => <circle key={'h' + i} cx={x(d[0])} cy={y(d[1])} r={1.9} fill="none" stroke="#EE2A2A" strokeWidth={0.9} />)}
      <rect x={L} y={Tp} width={R - L} height={B - Tp} fill="none" stroke="#444" strokeWidth={0.9} />
      {xT.map(t => <line key={'xt' + t} x1={x(t)} x2={x(t)} y1={B} y2={B + 3} stroke="#444" strokeWidth={0.6} />)}
      {yT.map(t => <line key={'yt' + t} y1={y(t)} y2={y(t)} x1={L - 3} x2={L} stroke="#444" strokeWidth={0.6} />)}
      {xT.map(t => <T key={'xl' + t} x={x(t)} y={663} fontSize={8} fill="#333" textAnchor="middle" dominantBaseline="central">{t}</T>)}
      {yT.map(t => <T key={'yl' + t} transform={`translate(406,${y(t)}) rotate(-90)`} fontSize={8} fill="#333" textAnchor="middle" dominantBaseline="central">{t}</T>)}
      <T x={560} y={507} fontSize={9.5} fontWeight="bold" fill="#222" textAnchor="middle" dominantBaseline="central">tsne</T>
      <T x={560} y={674.5} fontSize={8.5} fill="#222" textAnchor="middle" dominantBaseline="central">tsne_test$Y[,1]</T>
      <T transform="translate(397.5,585) rotate(-90)" fontSize={8.5} fill="#222" textAnchor="middle" dominantBaseline="central">tsne_test$Y[,2]</T>
    </g>
  );
}

export default function App() {
  const lab = (s: string, x: number, y: number) => (
    <T x={x} y={y} fontSize={15} fontWeight="bold" fill="#111" dominantBaseline="central">{s}</T>
  );
  return (
    <svg width={714} height={699} style={{ position: 'absolute', left: 0, top: 0, background: '#fff' }}>
      <rect width={714} height={699} fill="#fff" />
      {lab('(A)', 2, 7.5)}
      {lab('(B)', 367, 7.5)}
      {lab('(C)', 2, 234)}
      {lab('(D)', 367, 234)}
      {lab('(E)', 2, 472)}
      {lab('(F)', 367, 472)}
      <PanelA />
      <PanelB />
      <PanelC />
      <PanelD />
      <PanelE />
      <PanelF />
    </svg>
  );
}
